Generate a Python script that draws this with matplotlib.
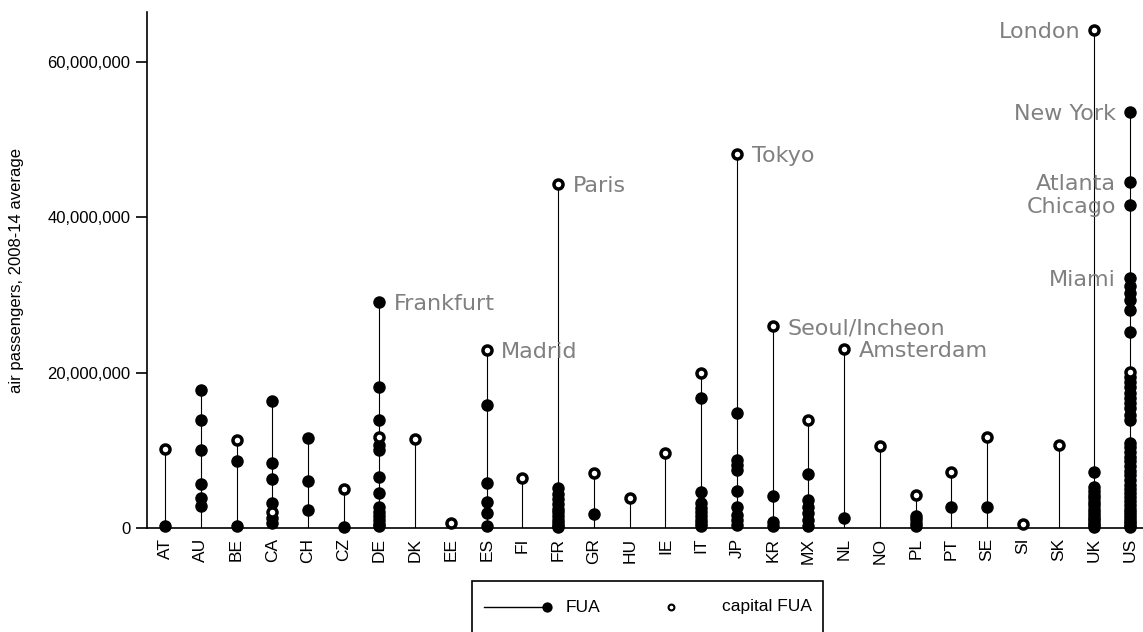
import numpy as np
import matplotlib
matplotlib.use("Agg")
import matplotlib.pyplot as plt
from matplotlib.lines import Line2D
from matplotlib.patches import Rectangle
from matplotlib.ticker import FuncFormatter, FixedLocator

# Average annual air passengers (millions), 2008-14, by functional urban area
countries = ["AT", "AU", "BE", "CA", "CH", "CZ", "DE", "DK", "EE", "ES", "FI", "FR",
             "GR", "HU", "IE", "IT", "JP", "KR", "MX", "NL", "NO", "PL", "PT", "SE",
             "SI", "SK", "UK", "US"]

# capital-city FUA per country (nan where the capital is not shown separately)
capital_pax = [10.2, np.nan, 11.3, 2.0, np.nan, 5.0, 11.7, 11.5, 0.7, 22.9, 6.4, 44.3,
               7.1, 3.9, 9.7, 20.0, 48.2, 26.0, 13.9, 23.1, 10.6, 4.2, 7.2, 11.7,
               0.5, 10.7, 64.1, 20.1]

# other FUAs per country
fua_pax = [
    [0.3],                                                     # AT
    [17.8, 13.9, 10.1, 5.7, 3.9, 2.8],                         # AU
    [8.6, 0.2],                                                # BE
    [16.3, 8.4, 6.3, 3.2, 1.3, 0.6],                           # CA
    [11.6, 6.1, 2.3],                                          # CH
    [0.1],                                                     # CZ
    [29.1, 18.1, 13.9, 10.7, 10.0, 6.6, 4.5, 2.7, 2.0, 1.5, 1.0, 0.5, 0.2],  # DE
    [],                                                        # DK
    [],                                                        # EE
    [15.8, 5.8, 3.4, 1.9, 0.2],                                # ES
    [],                                                        # FI
    [5.2, 4.4, 3.7, 3.1, 2.5, 2.0, 1.5, 1.0, 0.6, 0.3, 0.1],   # FR
    [1.8],                                                     # GR
    [],                                                        # HU
    [],                                                        # IE
    [16.7, 4.6, 3.2, 2.6, 2.0, 1.5, 1.0, 0.6, 0.3],            # IT
    [14.8, 8.8, 8.1, 7.5, 4.8, 2.7, 1.7, 1.0, 0.4],            # JP
    [4.1, 0.8, 0.3],                                           # KR
    [6.9, 3.6, 2.7, 1.9, 1.0, 0.3],                            # MX
    [1.25],                                                    # NL
    [],                                                        # NO
    [1.6, 1.1, 0.7, 0.3],                                      # PL
    [2.7],                                                     # PT
    [2.7],                                                     # SE
    [],                                                        # SI
    [],                                                        # SK
    [7.2, 5.3, 4.8, 4.3, 3.8, 3.3, 2.9, 2.5, 2.1, 1.7, 1.3, 1.0, 0.7, 0.4, 0.1],  # UK
    [53.6, 44.6, 41.6, 32.2, 31.2, 30.2, 29.4, 28.1, 25.3, 19.4, 18.8, 18.1,
     17.4, 16.8, 16.1, 15.4, 14.6, 13.9, 11.0, 10.4, 9.8, 9.2, 8.6, 8.0, 7.4,
     6.8, 6.2, 5.6, 5.0, 4.5, 4.0, 3.5, 3.0, 2.5, 2.1, 1.7, 1.3, 0.9, 0.6,
     0.3, 0.1],                                                # US
]

# named cities: name, country, passengers (millions), side of the label
label_city = ["Frankfurt", "Madrid", "Paris", "Tokyo", "Seoul/Incheon", "Amsterdam",
              "London", "New York", "Atlanta", "Chicago", "Miami"]
label_country = ["DE", "ES", "FR", "JP", "KR", "NL", "UK", "US", "US", "US", "US"]
label_value = [29.1, 22.9, 44.3, 48.2, 26.0, 23.1, 64.1, 53.6, 44.6, 41.6, 32.2]
label_side = ["right", "right", "right", "right", "right", "right",
              "left", "left", "left", "left", "left"]

yticks = [0, 20e6, 40e6, 60e6]

W, H = 1143, 632
fig = plt.figure(figsize=(W / 100, H / 100), dpi=100)
ax = fig.add_axes([147 / W, 1 - 528 / H, (W - 147) / W, (528 - 12) / H])

tick_font = ["Liberation Sans", "DejaVu Sans"]
label_font = ["DejaVu Sans"]

x = np.arange(1, len(countries) + 1)
M = 1e6

for xi, cap, fuas in zip(x, capital_pax, fua_pax):
    vals = list(fuas) + ([] if np.isnan(cap) else [cap])
    top = max(vals)
    ax.plot([xi, xi], [0, top * M], color="black", lw=0.8, zorder=1,
            solid_capstyle="butt")
    if fuas:
        ax.plot(np.full(len(fuas), xi), np.array(fuas) * M, "o", color="black",
                ms=9.0, mew=0, zorder=2, clip_on=False)

for xi, cap in zip(x, capital_pax):
    if not np.isnan(cap):
        ax.plot([xi], [cap * M], "o", mfc="white", mec="black", ms=6.5, mew=2.5,
                zorder=3, clip_on=False)

for name, c, v, side in zip(label_city, label_country, label_value, label_side):
    xi = countries.index(c) + 1
    dx = 10.5 if side == "right" else -10
    ax.annotate(name, (xi, v * M), xytext=(dx, 0), textcoords="offset points",
                ha="left" if side == "right" else "right", va="center_baseline",
                color="#808080", fontsize=16, family=label_font)

ax.set_xlim(0.496, 28.36)
ax.set_ylim(0, 66.44e6)

ax.spines["top"].set_visible(False)
ax.spines["right"].set_visible(False)
for s in ("left", "bottom"):
    ax.spines[s].set_linewidth(1.2)

ax.yaxis.set_major_locator(FixedLocator(yticks))
ax.yaxis.set_major_formatter(FuncFormatter(lambda v, p: f"{v:,.0f}"))
ax.set_xticks(x)
ax.set_xticklabels(countries, rotation=90, family=tick_font, fontsize=12.5)
ax.tick_params(axis="x", length=0, pad=7)
ax.tick_params(axis="y", length=8, width=1.2, pad=4, labelsize=12)
for t in ax.get_yticklabels():
    t.set_family(tick_font)

fig.text(17 / W, 1 - 270 / H, "air passengers, 2008-14 average", rotation=90,
         ha="center", va="center", fontsize=12, family=tick_font)

# legend box at the bottom, running off the lower edge
def fx(px):
    return px / W

def fy(py):
    return 1 - py / H

fig.patches.append(Rectangle((fx(472), fy(680)), fx(823) - fx(472), fy(581) - fy(680),
                             transform=fig.transFigure, fill=False, edgecolor="black",
                             lw=1.2, clip_on=False))
ly = 607
fig.lines.append(Line2D([fx(484), fx(546)], [fy(ly), fy(ly)], color="black", lw=1.0,
                        transform=fig.transFigure))
fig.lines.append(Line2D([fx(547)], [fy(ly)], marker="o", color="black", ms=7.4, mew=0,
                        transform=fig.transFigure))
fig.text(fx(566), fy(ly), "FUA", ha="left", va="center", fontsize=12.5, family=tick_font)
fig.lines.append(Line2D([fx(671)], [fy(ly)], marker="o", mfc="white", mec="black",
                        ms=4.2, mew=1.5, transform=fig.transFigure))
fig.text(fx(722), fy(ly), "capital FUA", ha="left", va="center", fontsize=12.5,
         family=tick_font)

fig.savefig("out.png", dpi=100)
